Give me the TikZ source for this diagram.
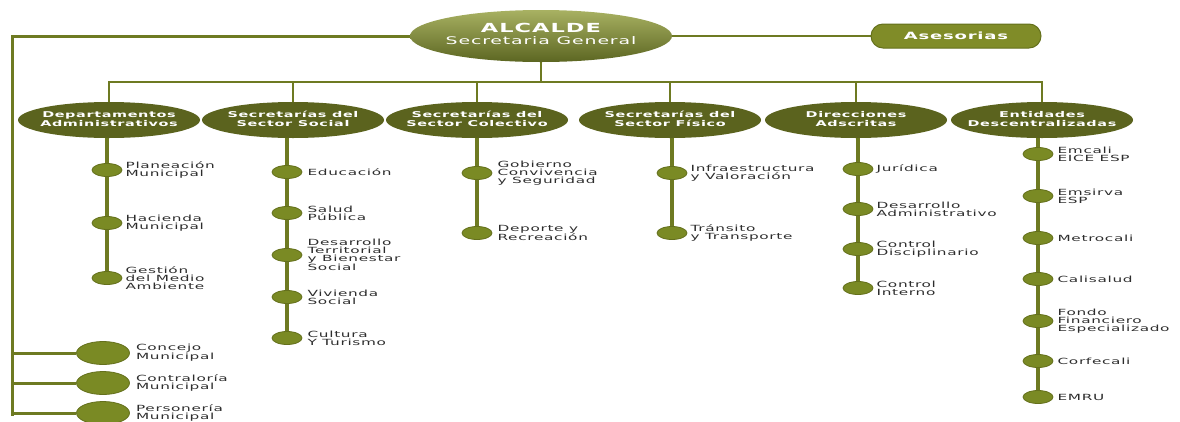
\documentclass[tikz,border=0pt]{standalone}
\usepackage{fontspec}
\usepackage{tikz}
\usetikzlibrary{shapes}
\usetikzlibrary{positioning}
\usetikzlibrary{backgrounds}

\newfontfamily\orgfont[FakeStretch=1.8,LetterSpace=8]{DejaVu Sans}
\definecolor{headfill}{RGB}{91,99,30}
\definecolor{linecol}{RGB}{110,122,34}
\definecolor{dotfill}{RGB}{122,138,36}
\definecolor{dotdraw}{RGB}{100,112,28}
\definecolor{asefill}{RGB}{128,140,40}
\definecolor{alctop}{RGB}{168,177,98}
\definecolor{alcbot}{RGB}{92,102,34}
\definecolor{lblgray}{RGB}{45,45,45}
\newcommand{\hdtext}[1]{\makebox[0pt]{\begin{tabular}{@{}c@{}}#1\end{tabular}}}

\begin{document}
\begin{tikzpicture}[x=1pt,y=-1pt,every node/.style={inner sep=0pt},
  head/.style={ellipse,fill=headfill,minimum width=182pt,minimum height=36pt,
    text=white,font=\orgfont\bfseries\fontsize{8}{8.6}\selectfont},
  alcbox/.style={ellipse,top color=alctop,bottom color=alcbot,minimum width=262pt,
    minimum height=52pt,text=white,font=\orgfont\fontsize{10.5}{12}\selectfont},
  asebox/.style={rounded corners=12pt,fill=asefill,draw=dotdraw,line width=1pt,
    minimum width=170pt,minimum height=24pt,text=white,font=\orgfont\bfseries\fontsize{10}{12}\selectfont},
  dot/.style={ellipse,fill=dotfill,draw=dotdraw,line width=.8pt,minimum width=30pt,minimum height=13pt},
  bigdot/.style={dot,minimum width=53pt,minimum height=23pt},
  lbl/.style={text=lblgray,align=left,font=\orgfont\fontsize{8.5}{7.9}\selectfont},
  link/.style={draw=linecol,line width=2pt},
  colline/.style={draw=linecol,line width=4pt},
  sideline/.style={draw=linecol,line width=3pt}]

  \useasboundingbox (0,0) rectangle (1180,421);

  % alcalde & asesorias
  \node[alcbox] (alc) at (541,36)
    {\hdtext{{\bfseries\fontsize{12.5}{13}\selectfont ALCALDE}\\Secretaria General}};
  \node[asebox] (ase) at (956,36) {Asesorias};

  % headers
  \node[head] (d1) at (109,120) {\hdtext{Departamentos\\Administrativos}};
  \node[head] (d2) at (293,120) {\hdtext{Secretarías del\\Sector Social}};
  \node[head] (d3) at (477,120) {\hdtext{Secretarías del\\Sector Colectivo}};
  \node[head] (d4) at (670,120) {\hdtext{Secretarías del\\Sector Físico}};
  \node[head] (d5) at (856,120) {\hdtext{Direcciones\\Adscritas}};
  \node[head] (d6) at (1042,120) {\hdtext{Entidades\\Descentralizadas}};

  % departamentos
  \node[dot] (d1a) at (107,170) {};
  \node[lbl,right=3pt of d1a] (t1a) {Planeación\\Municipal};
  \node[dot] (d1b) at (107,223) {};
  \node[lbl,right=3pt of d1b] (t1b) {Hacienda\\Municipal};
  \node[dot] (d1c) at (107,278) {};
  \node[lbl,right=3pt of d1c] (t1c) {Gestión\\del Medio\\Ambiente};

  % sector social
  \node[dot] (d2a) at (287,172) {};
  \node[lbl,right=5pt of d2a] (t2a) {Educación};
  \node[dot] (d2b) at (287,213) {};
  \node[lbl,right=5pt of d2b] (t2b) {Salud\\Pública};
  \node[dot] (d2c) at (287,255) {};
  \node[lbl,right=5pt of d2c] (t2c) {Desarrollo\\Territorial\\y Bienestar\\Social};
  \node[dot] (d2d) at (287,297) {};
  \node[lbl,right=5pt of d2d] (t2d) {Vivienda\\Social};
  \node[dot] (d2e) at (287,338) {};
  \node[lbl,right=5pt of d2e] (t2e) {Cultura\\Y Turismo};

  % sector colectivo
  \node[dot] (d3a) at (477,173) {};
  \node[lbl,right=5pt of d3a] (t3a) {Gobierno\\Convivencia\\y Seguridad};
  \node[dot] (d3b) at (477,233) {};
  \node[lbl,right=5pt of d3b] (t3b) {Deporte y\\Recreación};

  % sector fisico
  \node[dot] (d4a) at (672,173) {};
  \node[lbl,right=3pt of d4a] (t4a) {Infraestructura\\y Valoración};
  \node[dot] (d4b) at (672,233) {};
  \node[lbl,right=3pt of d4b] (t4b) {Tránsito\\y Transporte};

  % direcciones
  \node[dot] (d5a) at (858,169) {};
  \node[lbl,right=3pt of d5a] (t5a) {Jurídica};
  \node[dot] (d5b) at (858,209) {};
  \node[lbl,right=3pt of d5b] (t5b) {Desarrollo\\Administrativo};
  \node[dot] (d5c) at (858,249) {};
  \node[lbl,right=3pt of d5c] (t5c) {Control\\Disciplinario};
  \node[dot] (d5d) at (858,288) {};
  \node[lbl,right=3pt of d5d] (t5d) {Control\\Interno};

  % entidades
  \node[dot] (d6a) at (1038,154) {};
  \node[lbl,right=4pt of d6a] (t6a) {Emcali\\EICE ESP};
  \node[dot] (d6b) at (1038,196) {};
  \node[lbl,right=4pt of d6b] (t6b) {Emsirva\\ESP};
  \node[dot] (d6c) at (1038,238) {};
  \node[lbl,right=4pt of d6c] (t6c) {Metrocali};
  \node[dot] (d6d) at (1038,279) {};
  \node[lbl,right=4pt of d6d] (t6d) {Calisalud};
  \node[dot] (d6e) at (1038,321) {};
  \node[lbl,right=4pt of d6e] (t6e) {Fondo\\Financiero\\Especializado};
  \node[dot] (d6f) at (1038,361) {};
  \node[lbl,right=4pt of d6f] (t6f) {Corfecali};
  \node[dot] (d6g) at (1038,397) {};
  \node[lbl,right=4pt of d6g] (t6g) {EMRU};

  % control bodies
  \node[bigdot] (c1) at (103,353) {};
  \node[lbl,right=6pt of c1] (tc1) {Concejo\\Municipal};
  \node[bigdot] (c2) at (103,383) {};
  \node[lbl,right=6pt of c2] (tc2) {Contraloría\\Municipal};
  \node[bigdot] (c3) at (103,413) {};
  \node[lbl,right=6pt of c3] (tc3) {Personería\\Municipal};

  % connectors
  \begin{scope}[on background layer]
    \coordinate (bar) at (541,82);
    \coordinate (lft) at (12,416);
    \draw[link] (alc.south) -- (bar);
    \draw[link] (d1.north) |- (bar);
    \draw[link] (d2.north) |- (bar);
    \draw[link] (d3.north) |- (bar);
    \draw[link] (d4.north) |- (bar);
    \draw[link] (d5.north) |- (bar);
    \draw[link] (d6.north) |- (bar);
    \draw[link] (alc.east) -- (ase.west);

    \draw[sideline] (alc.west) -| (lft);
    \draw[sideline] (c1) -- (c1 -| lft);
    \draw[sideline] (c2) -- (c2 -| lft);
    \draw[sideline] (c3) -- (c3 -| lft);

    \draw[colline] (d1c) -- (d1c |- d1.south);
    \draw[colline] (d2e) -- (d2e |- d2.south);
    \draw[colline] (d3b) -- (d3b |- d3.south);
    \draw[colline] (d4b) -- (d4b |- d4.south);
    \draw[colline] (d5d) -- (d5d |- d5.south);
    \draw[colline] (d6g) -- (d6g |- d6.south);
  \end{scope}

\end{tikzpicture}
\end{document}
